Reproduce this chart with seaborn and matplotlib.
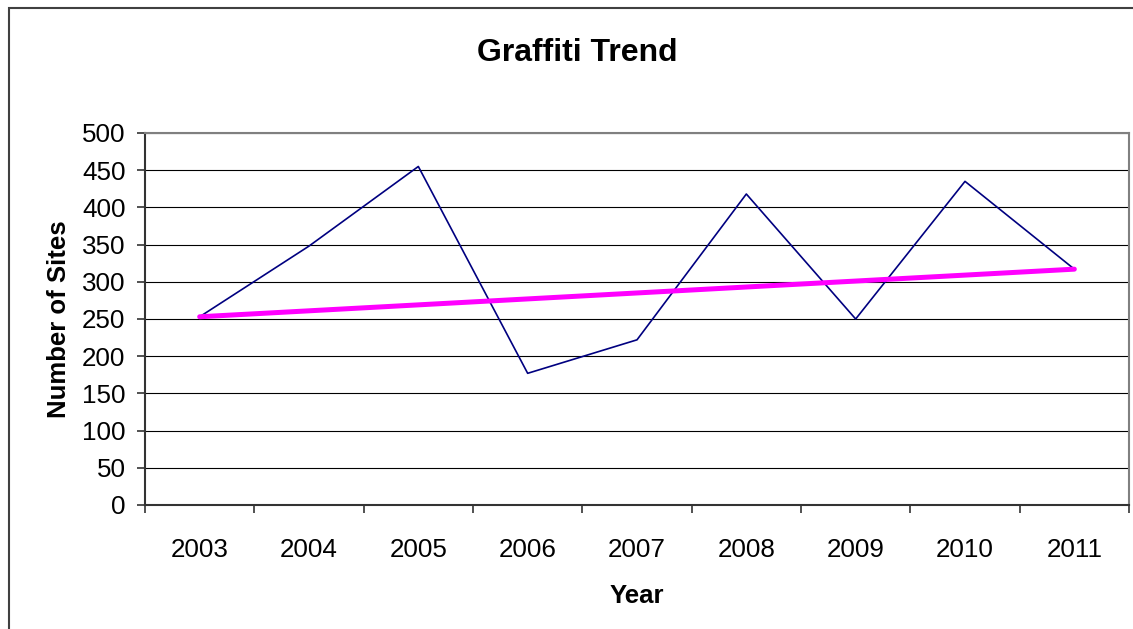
import matplotlib
matplotlib.use("Agg")
import matplotlib.pyplot as plt
import seaborn as sns
import pandas as pd
import numpy as np
from matplotlib.patches import Rectangle

years = [2003, 2004, 2005, 2006, 2007, 2008, 2009, 2010, 2011]
sites = [253, 348, 455, 177, 222, 418, 250, 435, 317]
trend_years = [2003, 2011]
trend_values = [253, 317]
y_ticks = [0, 50, 100, 150, 200, 250, 300, 350, 400, 450, 500]

sns.set_theme(style="white")
plt.rcParams['font.family'] = ['Liberation Sans', 'DejaVu Sans']

fig = plt.figure(figsize=(11.33, 6.29), dpi=100)
ax = fig.add_axes([145/1133, 1-505/629, (1129-145)/1133, (505-133)/629])

df = pd.DataFrame({"Year": years, "Sites": sites})
tdf = pd.DataFrame({"Year": trend_years, "Sites": trend_values})

sns.lineplot(data=df, x="Year", y="Sites", ax=ax, color="#000080", linewidth=1.2, zorder=3)
sns.lineplot(data=tdf, x="Year", y="Sites", ax=ax, color="#FF00FF", linewidth=3.6, zorder=4)

ax.set_xlim(years[0]-0.5, years[-1]+0.5)
ax.set_ylim(0, 500)
ax.set_yticks(y_ticks)
ax.set_yticklabels([str(v) for v in y_ticks], fontsize=18.7)
ax.yaxis.grid(True, color="black", linewidth=0.8)
ax.set_axisbelow(True)

# x: labels at category centers, tick marks at boundaries
ax.set_xticks(years)
ax.set_xticklabels([str(y) for y in years], fontsize=18.7)
ax.set_xticks([y - 0.5 for y in years] + [years[-1] + 0.5], minor=True)
ax.tick_params(axis='x', which='major', length=0, pad=23.5, colors='black')
ax.tick_params(axis='x', which='minor', length=6, width=1.2, color='#333333', bottom=True)
ax.tick_params(axis='y', which='major', length=6, width=1.2, color='#333333', left=True, pad=8, colors='black')
ax.tick_params(axis='y', colors='black')
ax.tick_params(axis='y', color='#333333')

for s in ['left', 'bottom']:
    ax.spines[s].set_color('#333333')
    ax.spines[s].set_linewidth(1.5)
for s in ['top', 'right']:
    ax.spines[s].set_visible(True)
    ax.spines[s].set_color('#808080')
    ax.spines[s].set_linewidth(1.5)

ax.set_xlabel("Year", fontsize=18.5, fontweight='bold', labelpad=16, color='black')
ax.set_ylabel("Number of Sites", fontsize=18.5, fontweight='bold', labelpad=8, color='black')
fig.text(577/1133, 1-53/629, "Graffiti Trend", fontsize=23, fontweight='bold', ha='center', va='center', color='black')

fig.patches.append(Rectangle((9/1133, -0.05), 1.2, 1-8/629+0.05, transform=fig.transFigure,
                             fill=False, edgecolor='#404040', linewidth=1.5, zorder=0))

fig.savefig("out.png", dpi=100)
